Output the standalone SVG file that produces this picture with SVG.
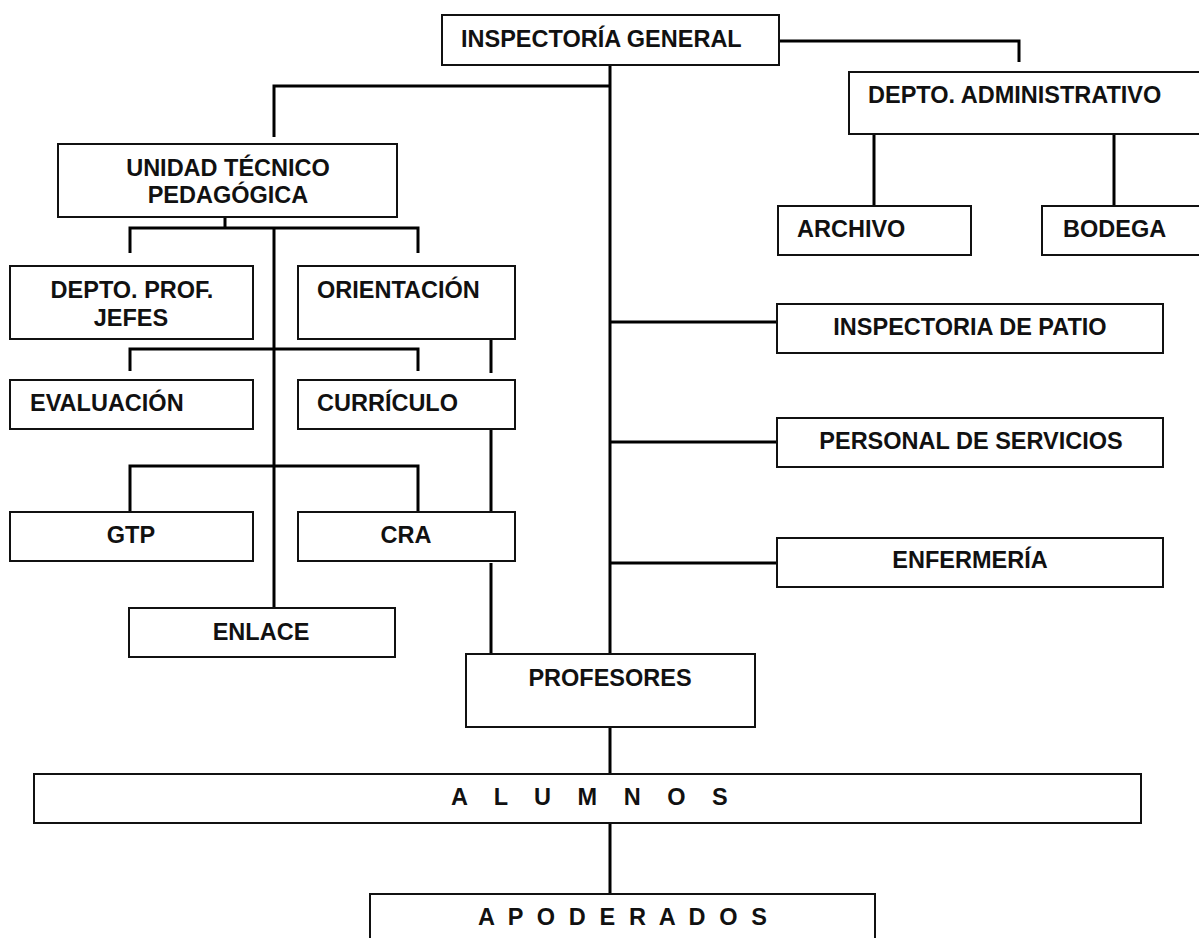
<svg xmlns="http://www.w3.org/2000/svg" width="1199" height="938" viewBox="0 0 1199 938">
<style>
.box{fill:#fff;stroke:#111;stroke-width:2}
.ln{fill:none;stroke:#000;stroke-width:3}
text{font-family:"Liberation Sans",Arial,Helvetica,sans-serif;font-weight:bold;font-size:23.5px;fill:#111}
.m{text-anchor:middle}
</style>
<rect width="1199" height="938" fill="#fff"/>
<g id="connectors">
<path class="ln" d="M610 65V654M610 727V774M610 823V894"/>
<path class="ln" d="M779 41H1019V62"/>
<path class="ln" d="M874 135V206M1114 135V206"/>
<path class="ln" d="M610 86H274V137"/>
<path class="ln" d="M610 322H777M610 442H777M610 563H777"/>
<path class="ln" d="M225 207V228M130 253V228H418V253M274 228V608"/>
<path class="ln" d="M130 371V349H418V371"/>
<path class="ln" d="M130 512V466H418V512"/>
<path class="ln" d="M491 326V373M491 420V512M491 563V654"/>
</g>
<g id="inspectoria-general"><rect class="box" x="442" y="15" width="337" height="50"/><text x="461" y="47">INSPECTORÍA GENERAL</text></g>
<g id="depto-administrativo"><rect class="box" x="849" y="72" width="360" height="62"/><text x="868" y="103">DEPTO. ADMINISTRATIVO</text></g>
<g id="archivo"><rect class="box" x="778" y="206" width="193" height="49"/><text x="797" y="237">ARCHIVO</text></g>
<g id="bodega"><rect class="box" x="1042" y="206" width="200" height="49"/><text x="1063" y="237">BODEGA</text></g>
<g id="utp"><rect class="box" x="58" y="144" width="339" height="73"/><text class="m" x="228" y="176">UNIDAD TÉCNICO</text><text class="m" x="228" y="203">PEDAGÓGICA</text></g>
<g id="depto-prof-jefes"><rect class="box" x="10" y="266" width="243" height="73"/><text class="m" x="132" y="298">DEPTO. PROF.</text><text class="m" x="131" y="326">JEFES</text></g>
<g id="orientacion"><rect class="box" x="298" y="266" width="217" height="73"/><text x="317" y="298">ORIENTACIÓN</text></g>
<g id="evaluacion"><rect class="box" x="10" y="380" width="243" height="49"/><text x="30" y="411">EVALUACIÓN</text></g>
<g id="curriculo"><rect class="box" x="298" y="380" width="217" height="49"/><text x="317" y="411">CURRÍCULO</text></g>
<g id="gtp"><rect class="box" x="10" y="512" width="243" height="49"/><text class="m" x="131" y="543">GTP</text></g>
<g id="cra"><rect class="box" x="298" y="512" width="217" height="49"/><text class="m" x="406" y="543">CRA</text></g>
<g id="enlace"><rect class="box" x="129" y="608" width="266" height="49"/><text class="m" x="261" y="640">ENLACE</text></g>
<g id="inspectoria-patio"><rect class="box" x="777" y="304" width="386" height="49"/><text class="m" x="970" y="335">INSPECTORIA DE PATIO</text></g>
<g id="personal-servicios"><rect class="box" x="777" y="418" width="386" height="49"/><text class="m" x="971" y="449">PERSONAL DE SERVICIOS</text></g>
<g id="enfermeria"><rect class="box" x="777" y="538" width="386" height="49"/><text class="m" x="970" y="568">ENFERMERÍA</text></g>
<g id="profesores"><rect class="box" x="466" y="654" width="289" height="73"/><text class="m" x="610" y="686">PROFESORES</text></g>
<g id="alumnos"><rect class="box" x="34" y="774" width="1107" height="49"/><text x="451" y="805" letter-spacing="10">A L U M N O S</text></g>
<g id="apoderados"><rect class="box" x="370" y="894" width="505" height="60"/><text x="478" y="925" letter-spacing="3.6">A P O D E R A D O S</text></g>
</svg>
